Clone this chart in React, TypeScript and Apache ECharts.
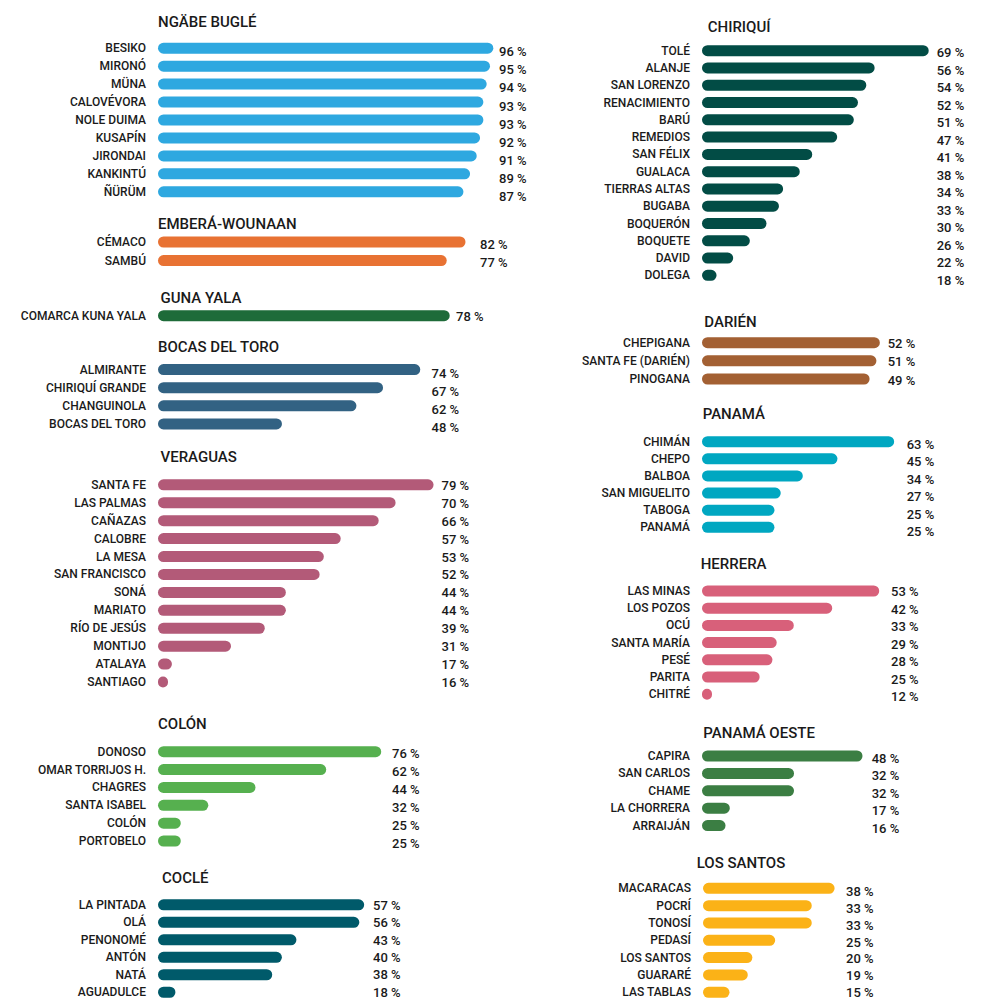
import React, { useEffect, useRef } from "react";
import * as echarts from "echarts";

// ---------- DATA ----------
const ngabeNames = ["BESIKO", "MIRONÓ", "MÜNA", "CALOVÉVORA", "NOLE DUIMA", "KUSAPÍN", "JIRONDAI", "KANKINTÚ", "ÑÜRÜM"];
const ngabeValues = [96, 95, 94, 93, 93, 92, 91, 89, 87];

const emberaNames = ["CÉMACO", "SAMBÚ"];
const emberaValues = [82, 77];

const gunaNames = ["COMARCA KUNA YALA"];
const gunaValues = [78];

const bocasNames = ["ALMIRANTE", "CHIRIQUÍ GRANDE", "CHANGUINOLA", "BOCAS DEL TORO"];
const bocasValues = [74, 67, 62, 48];

const veraguasNames = ["SANTA FE", "LAS PALMAS", "CAÑAZAS", "CALOBRE", "LA MESA", "SAN FRANCISCO", "SONÁ", "MARIATO", "RÍO DE JESÚS", "MONTIJO", "ATALAYA", "SANTIAGO"];
const veraguasValues = [79, 70, 66, 57, 53, 52, 44, 44, 39, 31, 17, 16];

const colonNames = ["DONOSO", "OMAR TORRIJOS H.", "CHAGRES", "SANTA ISABEL", "COLÓN", "PORTOBELO"];
const colonValues = [76, 62, 44, 32, 25, 25];

const cocleNames = ["LA PINTADA", "OLÁ", "PENONOMÉ", "ANTÓN", "NATÁ", "AGUADULCE"];
const cocleValues = [57, 56, 43, 40, 38, 18];

const chiriquiNames = ["TOLÉ", "ALANJE", "SAN LORENZO", "RENACIMIENTO", "BARÚ", "REMEDIOS", "SAN FÉLIX", "GUALACA", "TIERRAS ALTAS", "BUGABA", "BOQUERÓN", "BOQUETE", "DAVID", "DOLEGA"];
const chiriquiValues = [69, 56, 54, 52, 51, 47, 41, 38, 34, 33, 30, 26, 22, 18];

const darienNames = ["CHEPIGANA", "SANTA FE (DARIÉN)", "PINOGANA"];
const darienValues = [52, 51, 49];

const panamaNames = ["CHIMÁN", "CHEPO", "BALBOA", "SAN MIGUELITO", "TABOGA", "PANAMÁ"];
const panamaValues = [63, 45, 34, 27, 25, 25];

const herreraNames = ["LAS MINAS", "LOS POZOS", "OCÚ", "SANTA MARÍA", "PESÉ", "PARITA", "CHITRÉ"];
const herreraValues = [53, 42, 33, 29, 28, 25, 12];

const oesteNames = ["CAPIRA", "SAN CARLOS", "CHAME", "LA CHORRERA", "ARRAIJÁN"];
const oesteValues = [48, 32, 32, 17, 16];

const santosNames = ["MACARACAS", "POCRÍ", "TONOSÍ", "PEDASÍ", "LOS SANTOS", "GUARARÉ", "LAS TABLAS"];
const santosValues = [38, 33, 33, 25, 20, 19, 15];

const groupTitles = ["NGÄBE BUGLÉ", "EMBERÁ-WOUNAAN", "GUNA YALA", "BOCAS DEL TORO", "VERAGUAS", "COLÓN", "COCLÉ", "CHIRIQUÍ", "DARIÉN", "PANAMÁ", "HERRERA", "PANAMÁ OESTE", "LOS SANTOS"];
const groupNames = [ngabeNames, emberaNames, gunaNames, bocasNames, veraguasNames, colonNames, cocleNames, chiriquiNames, darienNames, panamaNames, herreraNames, oesteNames, santosNames];
const groupValues = [ngabeValues, emberaValues, gunaValues, bocasValues, veraguasValues, colonValues, cocleValues, chiriquiValues, darienValues, panamaValues, herreraValues, oesteValues, santosValues];

// ---------- STYLE / LAYOUT ----------
const colors = ["#2ea8e0", "#e87233", "#1e6b39", "#326283", "#b35a78", "#56b04f", "#005a6a", "#024c45", "#a36033", "#00a7c1", "#d8607a", "#3b7e43", "#fbb217"];

// titleX, titleY, firstRow, rowStep, barStart, labelX, axisMin, pxPerUnit, labelOffset, labelStep
const layouts = [
  [158, 22, 48.2, 17.95, 158, 499, -5, 3.32, 3.5, 18.1],
  [158, 224, 242, 18.6, 158, 480, 0, 3.75, 2, 18.6],
  [160.5, 298, 315.7, 18, 158, 456, 0, 3.74, 1, 18],
  [158, 347, 369.6, 18.1, 158, 431.5, 24.7, 5.32, 4, 18.1],
  [160.5, 456.5, 484.8, 17.93, 158, 441.5, 13.7, 4.22, 0.5, 17.93],
  [158, 724, 751.7, 17.86, 158, 392, 19.2, 3.93, 2, 17.86],
  [162, 878.4, 905, 17.9, 158, 373, 14.4, 4.84, 0.5, 17.9],
  [707.7, 27.3, 50.7, 17.28, 702, 936.7, 14.5, 4.16, 2, 17.5],
  [704.3, 322.3, 342.7, 18.15, 702, 887.7, 0, 3.42, 1, 18.15],
  [702.7, 414.3, 441.7, 17.12, 702, 906.7, 2, 3.15, 2.5, 17.5],
  [700.7, 564.3, 591, 17.2, 702, 891, 11.5, 4.27, 0.5, 17.5],
  [703.3, 732.7, 756, 17.4, 702, 871.7, 10.5, 4.28, 2, 17.5],
  [696.7, 862.7, 888.3, 17.33, 703, 846, 9.2, 4.57, 3.5, 17.5],
];

const FONT = "Roboto";
const TEXT = "#1a1a1a";

function buildOption() {
  const grid: any[] = [];
  const xAxis: any[] = [];
  const yAxis: any[] = [];
  const series: any[] = [];
  const graphic: any[] = [];
  const G = groupTitles.length;

  const hiddenCat = { axisLine: { show: false }, axisTick: { show: false }, splitLine: { show: false } };

  // bar grids
  groupTitles.forEach((title, i) => {
    const [tx, ty, firstRow, step, barStart, labelX, axisMin, k] = layouts[i];
    const names = groupNames[i];
    const values = groupValues[i];
    const n = names.length;
    const width = labelX - barStart;
    grid.push({ left: barStart, top: firstRow - step / 2, width, height: n * step });
    xAxis.push({
      type: "value",
      gridIndex: i,
      min: axisMin,
      max: axisMin + width / k,
      startValue: axisMin,
      show: false,
      splitLine: { show: false },
    });
    yAxis.push({
      type: "category",
      gridIndex: i,
      data: names,
      inverse: true,
      ...hiddenCat,
      axisLabel: { interval: 0, margin: 12, color: TEXT, fontFamily: FONT, fontSize: 12, fontWeight: 500 },
    });
    series.push({
      type: "bar",
      name: title,
      xAxisIndex: i,
      yAxisIndex: i,
      data: values,
      barWidth: 11,
      barMinHeight: 10,
      itemStyle: { color: colors[i], borderRadius: 5.5 },
      silent: true,
    });
    graphic.push({
      type: "text",
      x: tx,
      y: ty,
      style: { text: title, fill: TEXT, font: `500 15px ${FONT}`, verticalAlign: "middle", align: "left" },
    });
  });

  // value-label grids (same columns, slightly lower)
  groupTitles.forEach((title, i) => {
    const [, , firstRow, , barStart, labelX, , , off, lstep] = layouts[i];
    const values = groupValues[i];
    const n = values.length;
    grid.push({ left: barStart, top: firstRow + off - lstep / 2, width: labelX - barStart, height: n * lstep });
    xAxis.push({ type: "value", gridIndex: G + i, show: false, splitLine: { show: false } });
    yAxis.push({
      type: "category",
      gridIndex: G + i,
      position: "right",
      data: values.map((v) => `${v} %`),
      inverse: true,
      ...hiddenCat,
      axisLabel: { interval: 0, margin: 0, color: TEXT, fontFamily: FONT, fontSize: 13, fontWeight: 500 },
    });
  });

  return {
    animation: false,
    backgroundColor: "#ffffff",
    grid,
    xAxis,
    yAxis,
    series,
    graphic,
  };
}

export default function App() {
  const ref = useRef<HTMLDivElement>(null);
  useEffect(() => {
    if (!ref.current) return;
    const chart = echarts.init(ref.current, undefined, { renderer: "svg" });
    chart.setOption(buildOption() as any);
    return () => chart.dispose();
  }, []);
  return (
    <div
      ref={ref}
      style={{ position: "absolute", left: 0, top: 0, width: 984, height: 1001, background: "#fff" }}
    />
  );
}
